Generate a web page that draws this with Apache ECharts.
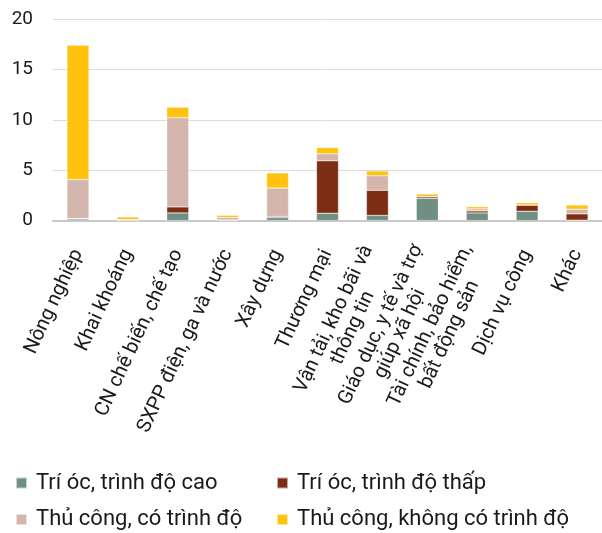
<!DOCTYPE html>
<html>
<head>
<meta charset="utf-8">
<script src="https://cdn.jsdelivr.net/npm/echarts@6/dist/echarts.min.js"></script>
<style>
  html, body { margin: 0; padding: 0; background: #fff; }
  #chart { width: 602px; height: 533px; }
</style>
</head>
<body>
<div id="chart"></div>
<script>
// Sectors on the horizontal axis
const categories = [
  'Nông nghiệp',
  'Khai khoáng',
  'CN chế biến, chế tạo',
  'SXPP điện, ga và nước',
  'Xây dựng',
  'Thương mại',
  'Vận tải, kho bãi và\nthông tin',
  'Giáo dục, y tế và trợ\ngiúp xã hội',
  'Tài chính, bảo hiểm,\nbất động sản',
  'Dịch vụ công',
  'Khác'
];

// Stacked components, bottom to top
const triOcCao     = [0.15, 0.02, 0.75, 0.03, 0.30, 0.72, 0.50, 2.20, 0.75, 0.92, 0.03];
const triOcThap    = [0.05, 0.00, 0.60, 0.02, 0.10, 5.20, 2.50, 0.15, 0.20, 0.60, 0.63];
const thuCongCo    = [3.86, 0.08, 8.85, 0.25, 2.82, 0.70, 1.45, 0.03, 0.20, 0.02, 0.46];
const thuCongKhong = [13.34, 0.25, 1.05, 0.22, 1.50, 0.62, 0.47, 0.25, 0.22, 0.23, 0.42];

const yTicks = [0, 5, 10, 15, 20];

const seriesNames = [
  'Trí óc, trình độ cao',
  'Trí óc, trình độ thấp',
  'Thủ công, có trình độ',
  'Thủ công, không có trình độ'
];
const seriesColors = ['#6F8F82', '#7E2D15', '#D3B5AC', '#FFC20E'];
const seriesData = [triOcCao, triOcThap, thuCongCo, thuCongKhong];

const FONT = 'Roboto';
const TEXT = '#1a1a1a';
const AXIS_FS = 19;
const CAT_FS = 20;
const LEGEND_FS = 22;

// Multi-line category names get their lines centred on each other:
// every line of a label sits in a box as wide as the label's longest line.
const measureCtx = document.createElement('canvas').getContext('2d');
measureCtx.font = CAT_FS + 'px ' + FONT;
const labelRich = {};
categories.forEach((c, i) => {
  const w = Math.max(...c.split('\n').map(l => measureCtx.measureText(l).width));
  labelRich['l' + i] = {
    width: Math.ceil(w), align: 'center',
    fontFamily: FONT, fontSize: CAT_FS, color: TEXT, lineHeight: 21
  };
});

const chart = echarts.init(document.getElementById('chart'), null, { renderer: 'canvas' });

const legendText = {
  fontFamily: FONT, fontSize: LEGEND_FS, lineHeight: 24, color: TEXT, padding: [0, 0, 0, 4]
};
const legendPos = [[15, 471], [276, 471], [15, 507.5], [276, 507.5]];

chart.setOption({
  animation: false,
  backgroundColor: '#ffffff',
  grid: { left: 53, width: 556, top: 19, bottom: 312.5, containLabel: false },
  legend: seriesNames.map((name, k) => ({
    left: legendPos[k][0], top: legendPos[k][1], padding: 0,
    itemWidth: 11, itemHeight: 11,
    icon: 'rect', textStyle: legendText,
    data: [name]
  })),
  xAxis: {
    type: 'category',
    data: categories,
    axisLine: { show: true, lineStyle: { color: '#C8C8C8', width: 2 } },
    axisTick: { show: false },
    axisLabel: {
      interval: 0, rotate: 65, margin: 30,
      fontFamily: FONT, fontSize: CAT_FS, color: TEXT,
      formatter: (value, index) =>
        value.split('\n').map(l => '{l' + index + '|' + l + '}').join('\n'),
      rich: labelRich
    }
  },
  yAxis: {
    type: 'value',
    min: yTicks[0], max: yTicks[yTicks.length - 1], interval: 5,
    axisLine: { show: false },
    axisTick: { show: false },
    splitLine: { lineStyle: { color: '#DCDCDC', width: 1 } },
    axisLabel: { margin: 20, fontFamily: FONT, fontSize: AXIS_FS, color: TEXT }
  },
  series: seriesData.map((d, i) => ({
    name: seriesNames[i],
    type: 'bar',
    stack: 'total',
    barWidth: 22,
    data: d,
    itemStyle: { color: seriesColors[i], borderColor: 'rgba(255,255,255,0.6)', borderWidth: 0.5 }
  }))
});
</script>
</body>
</html>
